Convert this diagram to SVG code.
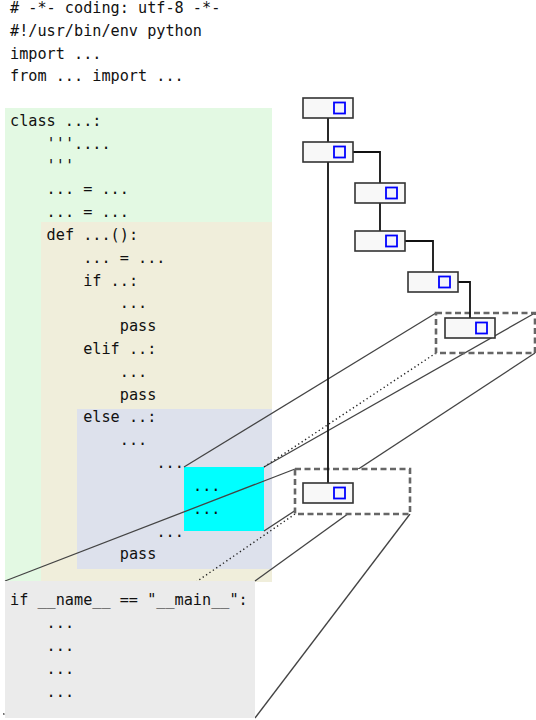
<svg xmlns="http://www.w3.org/2000/svg" width="536" height="720" viewBox="0 0 536 720">
<style>
text{font-family:"DejaVu Sans Mono","Liberation Mono",monospace;font-size:15.2px;fill:#111}
.proj{stroke:#444;stroke-width:1.3;fill:none}
.dot{stroke:#222;stroke-width:1.4;fill:none;stroke-dasharray:1.3,2.8}
.zoombox{stroke:#666;stroke-width:2.6;stroke-dasharray:6,3.5}
.conn{stroke:#111;stroke-width:1.8;fill:none}
.node rect.box{fill:#f8f8f8;stroke:#333;stroke-width:1.6}
.node rect.icon{fill:#f3f3fb;stroke:#0000ff;stroke-width:1.8}
</style>
<rect width="536" height="720" fill="#ffffff"/>
<g id="blocks">
<rect id="class-block" x="5" y="108" width="267" height="474" fill="#e3f9e3"/>
<rect id="def-block" x="41" y="222" width="231" height="360" fill="#f0eedb"/>
<rect id="else-block" x="77" y="409" width="195" height="160" fill="#dde1ec"/>
<rect id="inner-block" x="184" y="467" width="80" height="64" fill="#00ffff"/>
</g>
<g id="code">
<text x="10" y="13.4"># -*- coding: utf-8 -*-</text>
<text x="10" y="36">#!/usr/bin/env python</text>
<text x="10" y="58.6">import ...</text>
<text x="10" y="81.2">from ... import ...</text>
<text x="10" y="125.7">class ...:</text>
<text x="46.6" y="148.5">'''....</text>
<text x="46.6" y="171.3">'''</text>
<text x="46.6" y="194.2">... = ...</text>
<text x="46.6" y="217">... = ...</text>
<text x="46.6" y="239.8">def ...():</text>
<text x="83.2" y="262.7">... = ...</text>
<text x="83.2" y="285.5">if ..:</text>
<text x="119.8" y="308.3">...</text>
<text x="119.8" y="331.1">pass</text>
<text x="83.2" y="353.9">elif ..:</text>
<text x="119.8" y="376.7">...</text>
<text x="119.8" y="399.6">pass</text>
<text x="83.2" y="422.4">else ..:</text>
<text x="119.8" y="445.2">...</text>
<text x="156.4" y="468">...</text>
<text x="193" y="490.9">...</text>
<text x="193" y="513.7">...</text>
<text x="156.4" y="536.5">...</text>
<text x="119.8" y="559.3">pass</text>
</g>
<g id="projections">
<line class="proj" x1="436" y1="313" x2="184" y2="467"/>
<line class="proj" x1="535" y1="313" x2="264" y2="467"/>
<line class="dot" x1="436" y1="353" x2="264" y2="467"/>
<line class="proj" x1="535" y1="353" x2="264" y2="531"/>
<line class="proj" x1="295" y1="469" x2="5" y2="581"/>
<line class="proj" x1="410" y1="469" x2="255" y2="581"/>
<line class="dot" x1="295" y1="514" x2="1" y2="716"/>
<line class="proj" x1="410" y1="514" x2="255" y2="718"/>
</g>
<rect id="zoom-a" class="zoombox" x="436" y="313" width="99" height="40" fill="none"/>
<rect id="zoom-b" class="zoombox" x="295" y="469" width="115" height="45" fill="#ffffff"/>
<g id="main-block">
<rect x="5" y="581" width="250" height="137" fill="#ebebeb"/>
<text x="10" y="605">if __name__ == "__main__":</text>
<text x="46.6" y="628">...</text>
<text x="46.6" y="651">...</text>
<text x="46.6" y="674">...</text>
<text x="46.6" y="697">...</text>
</g>
<g id="connectors">
<line class="conn" x1="328" y1="118" x2="328" y2="142"/>
<line class="conn" x1="328" y1="162" x2="328" y2="483"/>
<path class="conn" d="M353,152 H380 V183"/>
<line class="conn" x1="380" y1="203" x2="380" y2="231"/>
<path class="conn" d="M405,241 H433 V272"/>
<path class="conn" d="M458,282 H470 V318"/>
</g>
<g id="n1" class="node"><rect class="box" x="303" y="98" width="50" height="20"/><rect class="icon" x="334" y="102.5" width="11" height="11"/></g>
<g id="n2" class="node"><rect class="box" x="303" y="142" width="50" height="20"/><rect class="icon" x="334" y="146.5" width="11" height="11"/></g>
<g id="n3" class="node"><rect class="box" x="355" y="183" width="50" height="20"/><rect class="icon" x="386" y="187.5" width="11" height="11"/></g>
<g id="n4" class="node"><rect class="box" x="355" y="231" width="50" height="20"/><rect class="icon" x="386" y="235.5" width="11" height="11"/></g>
<g id="n5" class="node"><rect class="box" x="408" y="272" width="50" height="20"/><rect class="icon" x="439" y="276.5" width="11" height="11"/></g>
<g id="n6" class="node"><rect class="box" x="445" y="318" width="50" height="20"/><rect class="icon" x="476" y="322.5" width="11" height="11"/></g>
<g id="n7" class="node"><rect class="box" x="303" y="483" width="50" height="20"/><rect class="icon" x="334" y="487.5" width="11" height="11"/></g>
</svg>
